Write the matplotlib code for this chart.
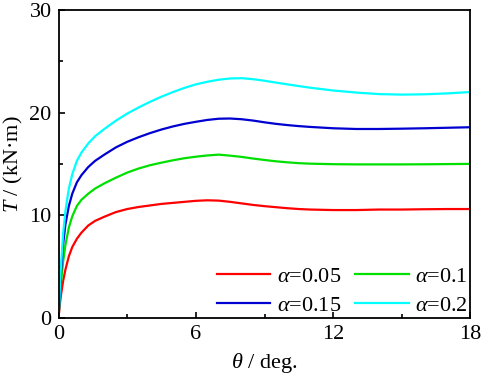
import numpy as np
import matplotlib
matplotlib.use("Agg")
import matplotlib.pyplot as plt

plt.rcParams['font.family'] = ['Liberation Serif', 'DejaVu Serif']
plt.rcParams['mathtext.fontset'] = 'custom'
plt.rcParams['mathtext.rm'] = 'Liberation Serif'
plt.rcParams['mathtext.it'] = 'Liberation Serif:italic'

theta = [0, 0.05, 0.1, 0.2, 0.3, 0.45, 0.6, 0.8, 1.0, 1.3, 1.6, 2.0, 2.5, 3.0, 3.5,
         4.0, 4.5, 5.0, 5.5, 6.0, 6.5, 7.0, 7.5, 8.0, 8.5, 9.0, 9.5, 10.0, 10.5, 11.0,
         12.0, 13.0, 14.0, 15.0, 16.0, 17.0, 18.0]

T_005 = [0, 1.2, 2.15, 3.6, 4.7, 6.0, 6.9, 7.7, 8.3, 9.0, 9.45, 9.85, 10.3, 10.6, 10.8,
         10.95, 11.1, 11.2, 11.3, 11.4, 11.45, 11.42, 11.3, 11.15, 11.0, 10.88, 10.78, 10.68, 10.6, 10.55,
         10.5, 10.5, 10.55, 10.55, 10.58, 10.6, 10.6]
T_010 = [0, 1.8, 3.3, 5.5, 7.1, 8.8, 9.9, 10.9, 11.5, 12.1, 12.6, 13.1, 13.65, 14.15, 14.55,
         14.87, 15.12, 15.35, 15.55, 15.7, 15.82, 15.9, 15.8, 15.68, 15.52, 15.38, 15.25, 15.15, 15.07, 15.02,
         14.97, 14.95, 14.95, 14.95, 14.96, 14.98, 15.0]
T_015 = [0, 2.3, 4.2, 7.2, 9.1, 10.9, 12.1, 13.2, 13.9, 14.7, 15.3, 15.9, 16.6, 17.15, 17.6,
         18.0, 18.35, 18.65, 18.9, 19.1, 19.28, 19.4, 19.42, 19.35, 19.22, 19.05, 18.9, 18.78, 18.68, 18.6,
         18.47, 18.4, 18.4, 18.43, 18.47, 18.52, 18.57]
T_020 = [0, 2.6, 4.8, 8.2, 10.4, 12.6, 14.0, 15.3, 16.1, 17.0, 17.7, 18.4, 19.2, 19.9, 20.5,
         21.05, 21.55, 22.0, 22.4, 22.75, 23.0, 23.2, 23.32, 23.35, 23.25, 23.1, 22.92, 22.75, 22.58, 22.42,
         22.15, 21.95, 21.8, 21.75, 21.78, 21.87, 22.0]

series = [
    (T_005, r'$\alpha$=0.05', '#FF0000'),
    (T_010, r'$\alpha$=0.1', '#00E000'),
    (T_015, r'$\alpha$=0.15', '#0000D0'),
    (T_020, r'$\alpha$=0.2', '#00FFFF'),
]

FS = 16

fig = plt.figure(figsize=(4.84, 3.82), dpi=100)
ax = fig.add_axes([0.121, 0.168, 0.851, 0.806])

lines = {}
for vals, lab, col in series:
    ln, = ax.plot(theta, vals, color=col, lw=1.6, label=lab,
                  solid_joinstyle='round')
    lines[lab] = ln

ax.set_xlim(0, 18)
ax.set_ylim(0, 30)
ax.set_xticks([0, 6, 12, 18])
ax.set_xticks([3, 9, 15], minor=True)
ax.set_yticks([0, 10, 20, 30])
ax.set_yticks([5, 15, 25], minor=True)
ax.tick_params(which='both', direction='in', labelsize=FS, width=1.2)
ax.tick_params(which='major', length=4.5)
ax.tick_params(which='minor', length=3)
ax.tick_params(axis='x', pad=5)
ax.tick_params(axis='y', pad=5)
for s in ax.spines.values():
    s.set_linewidth(1.3)

ax.set_xlabel(r'$\theta$ / deg.', fontsize=FS, labelpad=5)
ax.set_ylabel(r'$T$ / (kN·m)', fontsize=FS, labelpad=3)

order = [r'$\alpha$=0.05', r'$\alpha$=0.15', r'$\alpha$=0.1', r'$\alpha$=0.2']
ax.legend([lines[k] for k in order], order, ncol=2, loc='lower right',
          frameon=False, fontsize=FS, handlelength=2.4, handletextpad=0.3,
          columnspacing=0.66, labelspacing=0.35, borderaxespad=0.0,
          borderpad=0.1, bbox_to_anchor=(1.0, 0.0))

fig.savefig('out.png', dpi=100)
